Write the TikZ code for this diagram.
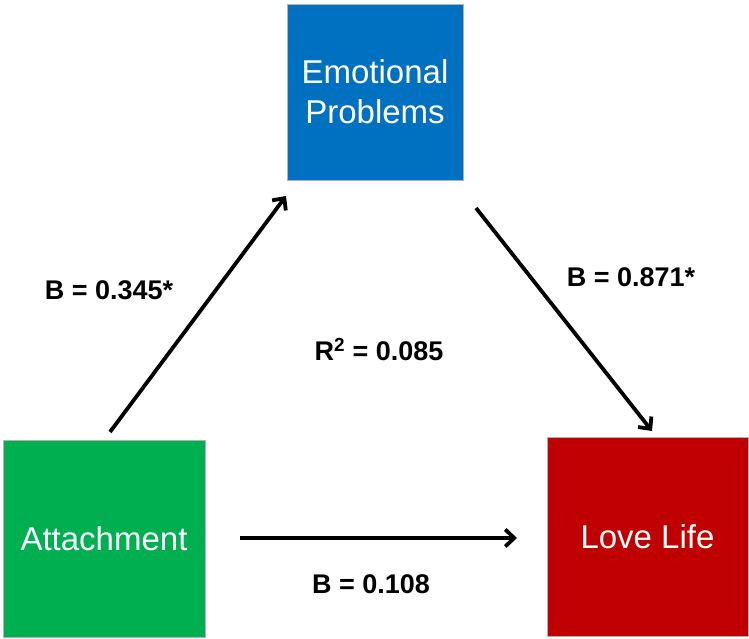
\documentclass[tikz,border=0pt]{standalone}
\usepackage{fontspec}
\setmainfont{Liberation Sans}
\usetikzlibrary{arrows.meta}
\definecolor{epblue}{HTML}{0070C0}
\definecolor{atgreen}{HTML}{00B050}
\definecolor{llred}{HTML}{C00000}
\begin{document}
\begin{tikzpicture}[x=1pt,y=-1pt,
  box/.style={draw=gray!60,line width=0.8pt,text=white,inner sep=0pt,align=center,
    font=\fontsize{33}{40}\selectfont},
  conn/.style={line width=3.8pt,-{Straight Barb[length=9pt,width=17pt,line width=3.8pt]}},
  lbl/.style={font=\fontsize{27}{32}\selectfont\bfseries,inner sep=0pt}]
\useasboundingbox (0,0) rectangle (749,639);
\node[box,fill=epblue,minimum width=176pt,minimum height=176pt] (ep) at (375,92) {Emotional\\Problems};
\node[box,fill=atgreen,minimum width=202pt,minimum height=197pt] (at) at (104,538.5) {Attachment};
\node[box,fill=llred,minimum width=201pt,minimum height=199pt] (ll) at (647.5,536.5) {Love Life};
\coordinate (a1s) at (110,432);
\coordinate (a1e) at (286,196);
\coordinate (a2s) at (476,208);
\coordinate (a2e) at (652,431);
\coordinate (a3s) at (240,538);
\coordinate (a3e) at (517,538);
\draw[conn] (a1s) -- (a1e);
\draw[conn] (a2s) -- (a2e);
\draw[conn] (a3s) -- (a3e);
\node[lbl] (l1) at (109,290) {B = 0.345*};
\node[lbl] (l2) at (631,277) {B = 0.871*};
\node[lbl] (l3) at (379,350) {R\textsuperscript{2} = 0.085};
\node[lbl] (l4) at (371,584) {B = 0.108};
\end{tikzpicture}
\end{document}
